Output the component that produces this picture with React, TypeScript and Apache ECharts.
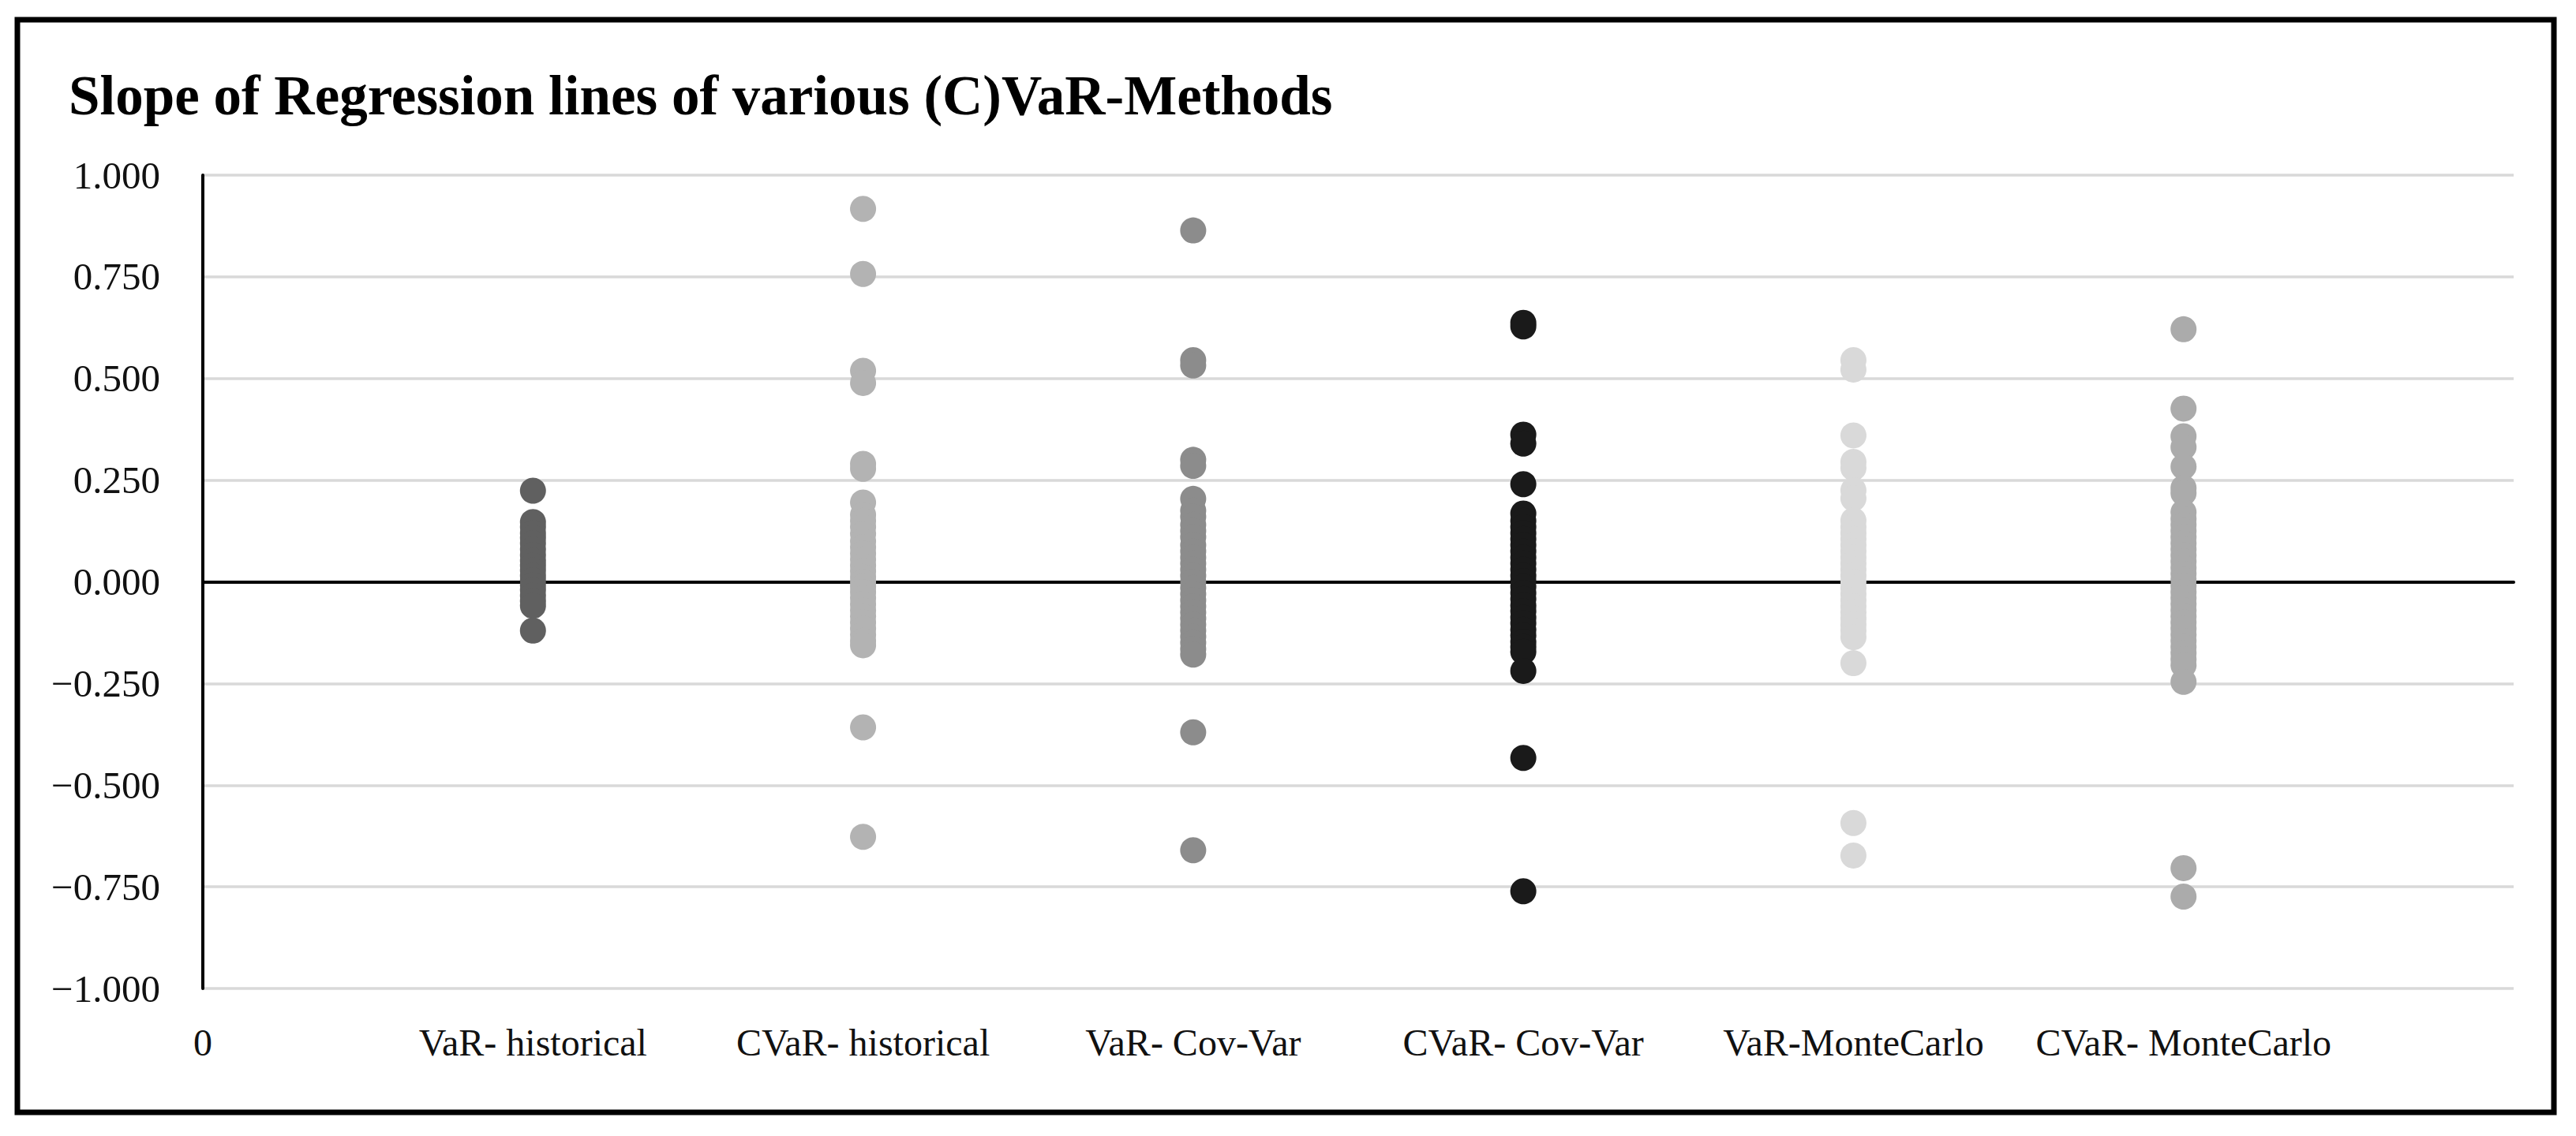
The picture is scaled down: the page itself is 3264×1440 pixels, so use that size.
import { useEffect, useRef } from 'react';
import * as echarts from 'echarts';
import type { EChartsOption } from 'echarts';

// Category names sit on x = 1..6; 0 and 7 are the axis ends.
const xTickLabels = [
  '0',
  'VaR- historical',
  'CVaR- historical',
  'VaR- Cov-Var',
  'CVaR- Cov-Var',
  'VaR-MonteCarlo',
  'CVaR- MonteCarlo',
  ''
];

const methodColors = ['#606060', '#b3b3b3', '#8c8c8c', '#1a1a1a', '#d9d9d9', '#ababab'];

const varHistorical = [
  0.224, 0.147, 0.135, 0.12, 0.108, 0.095, 0.08, 0.066, 0.052, 0.04, 0.028, 0.015, 0.004,
  -0.008, -0.02, -0.034, -0.047, -0.059, -0.12
];

const cvarHistorical = [
  0.917, 0.757, 0.519, 0.489, 0.29, 0.278, 0.195, 0.165, 0.15, 0.135, 0.118, 0.1, 0.085, 0.07,
  0.055, 0.04, 0.026, 0.012, 0, -0.012, -0.025, -0.04, -0.055, -0.07, -0.085, -0.1, -0.115,
  -0.13, -0.145, -0.156, -0.358, -0.627
];

const varCovVar = [
  0.864, 0.545, 0.532, 0.3, 0.285, 0.204, 0.175, 0.16, 0.14, 0.125, 0.11, 0.09, 0.075, 0.06,
  0.045, 0.03, 0.015, 0, -0.015, -0.03, -0.045, -0.06, -0.075, -0.09, -0.105, -0.12, -0.135,
  -0.15, -0.165, -0.179, -0.37, -0.66
];

const cvarCovVar = [
  0.637, 0.628, 0.362, 0.34, 0.24, 0.168, 0.15, 0.135, 0.12, 0.105, 0.09, 0.075, 0.06, 0.045,
  0.03, 0.015, 0.002, -0.012, -0.027, -0.042, -0.058, -0.072, -0.088, -0.102, -0.118, -0.132,
  -0.148, -0.16, -0.172, -0.219, -0.433, -0.761
];

const varMonteCarlo = [
  0.545, 0.522, 0.36, 0.295, 0.28, 0.225, 0.205, 0.151, 0.135, 0.12, 0.105, 0.09, 0.075, 0.06,
  0.045, 0.03, 0.015, 0, -0.015, -0.03, -0.045, -0.06, -0.075, -0.09, -0.105, -0.12, -0.136,
  -0.2, -0.593, -0.673
];

const cvarMonteCarlo = [
  0.621, 0.426, 0.358, 0.331, 0.283, 0.231, 0.218, 0.171, 0.155, 0.14, 0.125, 0.11, 0.095,
  0.08, 0.065, 0.05, 0.035, 0.02, 0.005, -0.01, -0.025, -0.04, -0.055, -0.07, -0.085, -0.1,
  -0.115, -0.13, -0.145, -0.16, -0.175, -0.19, -0.205, -0.246, -0.704, -0.774
];

const methodSlopes = [varHistorical, cvarHistorical, varCovVar, cvarCovVar, varMonteCarlo, cvarMonteCarlo];

const FONT = "'Liberation Serif', 'Times New Roman', serif";

function formatSlope(value: number) {
  const text = Math.abs(value).toFixed(3);
  return value < 0 ? `\u2212${text}` : text;
}

function buildOption(): EChartsOption {
  return {
    animation: false,
    backgroundColor: '#ffffff',
    title: {
      text: 'Slope of Regression lines of various (C)VaR-Methods',
      left: 87,
      top: 85,
      padding: 0,
      textStyle: { fontFamily: FONT, fontWeight: 'bold', fontSize: 71, color: '#000' }
    },
    graphic: [
      {
        type: 'rect',
        shape: { x: 22, y: 25, width: 3214, height: 1385 },
        style: { fill: 'none', stroke: '#000', lineWidth: 7 },
        silent: true
      }
    ],
    grid: { left: 257, right: 79, top: 222, bottom: 187, containLabel: false },
    xAxis: [
      {
        // the black line through zero
        type: 'value',
        min: 0,
        max: 7,
        interval: 1,
        axisLine: { show: true, onZero: true, lineStyle: { color: '#000', width: 4 } },
        axisTick: { show: false },
        axisLabel: { show: false },
        splitLine: { show: false }
      },
      {
        // labels along the bottom edge
        type: 'value',
        position: 'bottom',
        min: 0,
        max: 7,
        interval: 1,
        axisLine: { show: false, onZero: false },
        axisTick: { show: false },
        splitLine: { show: false },
        axisLabel: {
          margin: 44,
          fontFamily: FONT,
          fontSize: 48,
          color: '#111',
          formatter: (value: number) => xTickLabels[value] ?? ''
        }
      }
    ],
    yAxis: {
      type: 'value',
      min: -1,
      max: 1,
      interval: 0.25,
      axisLine: { show: true, lineStyle: { color: '#000', width: 4 } },
      axisTick: { show: false },
      splitLine: { show: true, lineStyle: { color: '#d9d9d9', width: 3.5 } },
      axisLabel: {
        margin: 54,
        fontFamily: FONT,
        fontSize: 49,
        color: '#111',
        formatter: formatSlope
      }
    },
    series: methodSlopes.map((values, index) => ({
      name: xTickLabels[index + 1],
      type: 'scatter' as const,
      xAxisIndex: 0,
      symbol: 'circle',
      symbolSize: 33,
      itemStyle: { color: methodColors[index], opacity: 1 },
      data: values.map((v) => [index + 1, v])
    }))
  };
}

export default function App() {
  const containerRef = useRef<HTMLDivElement | null>(null);

  useEffect(() => {
    if (!containerRef.current) return undefined;
    const chart = echarts.init(containerRef.current, undefined, { renderer: 'svg' });
    chart.setOption(buildOption(), true);
    return () => {
      chart.dispose();
    };
  }, []);

  return (
    <div
      ref={containerRef}
      style={{ position: 'absolute', left: 0, top: 0, width: 3264, height: 1440, background: '#fff' }}
    />
  );
}
